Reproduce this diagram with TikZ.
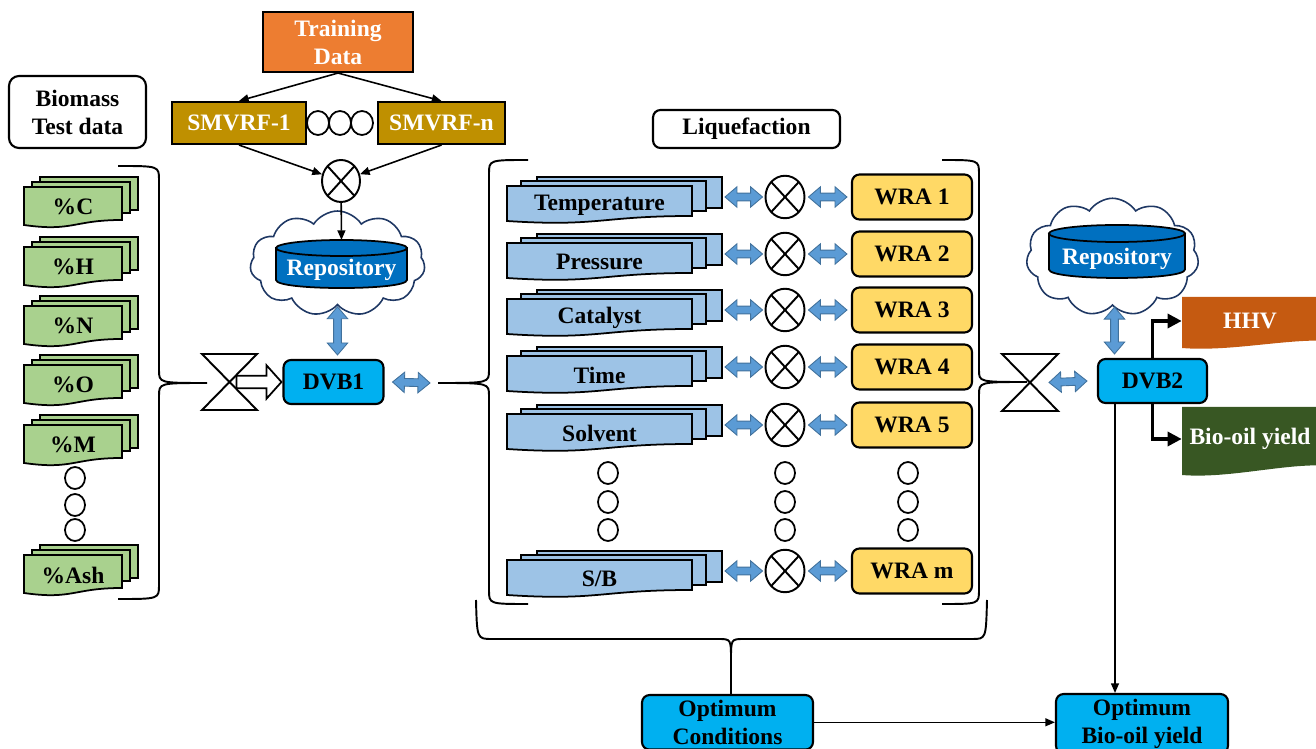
\documentclass[tikz,border=0pt]{standalone}
\usepackage{fontspec}
\setmainfont{Liberation Serif}
\usetikzlibrary{calc,arrows.meta,shapes.geometric,shapes.symbols}

\definecolor{trainorange}{HTML}{ED7D31}
\definecolor{smvgold}{HTML}{BF9000}
\definecolor{leafgreen}{HTML}{A9D18E}
\definecolor{paleblue}{HTML}{9DC3E6}
\definecolor{wrayellow}{HTML}{FFD966}
\definecolor{dvbcyan}{HTML}{00B0F0}
\definecolor{repoblue}{HTML}{0070C0}
\definecolor{cloudnavy}{HTML}{1F3864}
\definecolor{arrowblue}{HTML}{5B9BD5}
\definecolor{arrowedge}{HTML}{41719C}
\definecolor{hhvorange}{HTML}{C55A11}
\definecolor{oilgreen}{HTML}{385723}

\tikzset{
  lbl/.style={font=\fontsize{13.4}{15.9}\selectfont\bfseries, align=center, inner sep=0pt},
  box/.style={lbl, draw=black, line width=1.2pt},
  roundbox/.style={box, rounded corners=0.15cm},
  mixer/.style={ellipse, draw=black, line width=1.1pt, minimum width=0.78cm,
    minimum height=0.85cm, inner sep=0pt,
    path picture={\draw[line width=1.1pt]
      (path picture bounding box.north west) -- (path picture bounding box.south east)
      (path picture bounding box.north east) -- (path picture bounding box.south west);}},
  gapdot/.style={ellipse, draw=black, line width=1pt, minimum width=0.4cm,
    minimum height=0.44cm, inner sep=0pt},
  doc/.style={draw=black, line width=1pt},
  curly/.style={draw=black, line width=1.1pt},
  puffy/.style={cloud, cloud puffs=11, cloud puff arc=115, draw=cloudnavy,
    fill=white, line width=0.9pt},
  thinarrow/.style={draw=black, line width=0.9pt, -{Triangle[length=5.5pt,width=4.5pt]}},
  thickarrow/.style={draw=black, line width=1.8pt, -{Triangle[length=8pt,width=8pt]}},
  blockarrow/.style={draw=arrowedge, fill=arrowblue, line width=0.5pt,
    to path={let \p1=(\tikztostart), \p2=(\tikztotarget),
      \n1={atan2(\y2-\y1,\x2-\x1)} in
      (\p1) -- ($(\p1)+(\n1:6.8pt)+(\n1+90:5.8pt)$)
      -- ($(\p1)+(\n1:6.8pt)+(\n1+90:2.2pt)$)
      -- ($(\p2)+(\n1:-6.8pt)+(\n1+90:2.2pt)$)
      -- ($(\p2)+(\n1:-6.8pt)+(\n1+90:5.8pt)$)
      -- (\p2)
      -- ($(\p2)+(\n1:-6.8pt)+(\n1-90:5.8pt)$)
      -- ($(\p2)+(\n1:-6.8pt)+(\n1-90:2.2pt)$)
      -- ($(\p1)+(\n1:6.8pt)+(\n1-90:2.2pt)$)
      -- ($(\p1)+(\n1:6.8pt)+(\n1-90:5.8pt)$) -- cycle}},
  openarrow/.style={draw=black, fill=white, line width=1pt,
    to path={let \p1=(\tikztostart), \p2=(\tikztotarget),
      \n1={atan2(\y2-\y1,\x2-\x1)} in
      ($(\p1)+(\n1+90:3.6pt)$)
      -- ($(\p2)+(\n1:-8.5pt)+(\n1+90:3.6pt)$)
      -- ($(\p2)+(\n1:-8.5pt)+(\n1+90:9.5pt)$)
      -- (\p2)
      -- ($(\p2)+(\n1:-8.5pt)+(\n1-90:9.5pt)$)
      -- ($(\p2)+(\n1:-8.5pt)+(\n1-90:3.6pt)$)
      -- ($(\p1)+(\n1-90:3.6pt)$) -- cycle}}
}

\begin{document}
\begin{tikzpicture}[x=0.02cm, y=-0.02cm]
  \useasboundingbox (0,0) rectangle (1316,749);

  % Braces round the biomass data and the liquefaction block
  \coordinate (braceA) at (207,383);
  \coordinate (braceB) at (438,383);
  \coordinate (braceC) at (1027,382);
  \coordinate (braceD) at (731,660);
  \draw[curly] (118,166) .. controls (159,166) .. (159,180) -- (159,370)
    .. controls (159,383) .. (braceA) .. controls (159,383) .. (159,396)
    -- (159,585) .. controls (159,599) .. (118,599);
  \draw[curly] (528,160) .. controls (489,160) .. (489,174) -- (489,370)
    .. controls (489,383) .. (braceB) .. controls (489,383) .. (489,396)
    -- (489,590) .. controls (489,604) .. (528,604);
  \draw[curly] (942,160) .. controls (979,160) .. (979,174) -- (979,370)
    .. controls (979,382) .. (braceC) .. controls (979,382) .. (979,395)
    -- (979,590) .. controls (979,604) .. (942,604);
  \draw[curly] (476,600) .. controls (477,639) .. (492,639) -- (718,639)
    .. controls (731,639) .. (braceD) .. controls (731,639) .. (744,639)
    -- (972,639) .. controls (986,639) .. (987,600);

  % Biomass composition stacks
  \foreach \yy/\lab/\nm in {187/{\%C}/pc, 247/{\%H}/ph, 306/{\%N}/pn,
      365/{\%O}/po, 425/{\%M}/pm, 555/{\%Ash}/pash} {
    \draw[doc, fill=leafgreen] (40,\yy-10) rectangle (138,\yy+23);
    \draw[doc, fill=leafgreen] (32,\yy-5) rectangle (130,\yy+26);
    \draw[doc, fill=leafgreen] (24,\yy) -- (122,\yy) -- (122,\yy+33)
      .. controls (73,\yy+33) and (73,\yy+45) .. (24,\yy+38) -- cycle;
    \node[lbl] (\nm) at (73,\yy+20) {\lab};
  }
  \foreach \y in {478,505,530}
    \node[gapdot] (gapg-\y) at (75,\y) {};

  % Liquefaction parameter rows
  \foreach \yy/\lab/\wra/\idx in {197/Temperature/{WRA 1}/1, 254/Pressure/{WRA 2}/2,
      310/Catalyst/{WRA 3}/3, 367/Time/{WRA 4}/4, 425/Solvent/{WRA 5}/5,
      571/{S/B}/{WRA m}/m} {
    \draw[doc, fill=paleblue] (537,\yy-20) rectangle (722,\yy+11);
    \draw[doc, fill=paleblue] (521,\yy-16) rectangle (706,\yy+14);
    \draw[doc, fill=paleblue] (507,\yy-11) -- (692,\yy-11) -- (692,\yy+19)
      .. controls (599.5,\yy+19) and (599.5,\yy+30) .. (507,\yy+24) -- cycle;
    \node[lbl] (par\idx) at (599.5,\yy+8) {\lab};
    \coordinate (par\idx-e) at (722,\yy);
    \node[mixer] (mix\idx) at (785,\yy) {};
    \node[roundbox, fill=wrayellow, minimum width=2.4cm, minimum height=0.9cm]
      (wra\idx) at (912,\yy) {\wra};
    \draw[blockarrow] ($(par\idx-e)+(3,0)$) to ($(mix\idx.west)+(-2,0)$);
    \draw[blockarrow] ($(mix\idx.east)+(3,0)$) to ($(wra\idx.west)+(-4,0)$);
  }
  \foreach \x in {608,785,908} {
    \foreach \y in {473,502,530} {
      \node[gapdot] (gap-\x-\y) at (\x,\y) {};
    }
  }

  % Training side
  \node[box, fill=trainorange, text=white, minimum width=3cm, minimum height=1.2cm]
    (train) at (338,42) {Training\\Data};
  \node[box, fill=smvgold, text=white, minimum width=2.68cm, minimum height=0.84cm]
    (smv1) at (239,123) {SMVRF-1};
  \node[box, fill=smvgold, text=white, minimum width=2.54cm, minimum height=0.84cm]
    (smvn) at (441.5,123) {SMVRF-n};
  \foreach \x in {318,340,362}
    \node[gapdot, minimum width=0.44cm, minimum height=0.48cm] (gapt-\x) at (\x,123) {};
  \node[mixer, minimum width=0.76cm, minimum height=0.84cm] (mix0) at (341,181) {};

  % Labels
  \node[roundbox, fill=white, minimum width=2.74cm, minimum height=1.44cm,
    rounded corners=0.2cm] (biomass) at (77.5,112) {Biomass\\Test data};
  \node[roundbox, fill=white, minimum width=3.74cm, minimum height=0.76cm]
    (liq) at (746.5,129) {Liquefaction};

  % Repositories in their clouds
  \node[puffy, aspect=1.65, minimum width=3.5cm, minimum height=2.1cm]
    (cloud1) at (337.5,263.5) {};
  \draw[fill=repoblue, line width=1pt] (276,248) -- (276,280)
    .. controls (276,290.7) and (407,290.7) .. (407,280) -- (407,248) -- cycle;
  \draw[fill=repoblue, line width=1pt] (341.5,248) ellipse [x radius=65.5, y radius=8];
  \node[lbl, text=white] (repo1) at (341.5,270) {Repository};
  \coordinate (repo1-top) at (341.5,240);
  \node[puffy, aspect=1.45, minimum width=3.45cm, minimum height=2.35cm]
    (cloud2) at (1112.5,257) {};
  \draw[fill=repoblue, line width=1pt] (1049,233.5) -- (1049,269.5)
    .. controls (1049,280.8) and (1185,280.8) .. (1185,269.5) -- (1185,233.5) -- cycle;
  \draw[fill=repoblue, line width=1pt] (1117,233.5) ellipse [x radius=68, y radius=8.5];
  \node[lbl, text=white] (repo2) at (1117,259) {Repository};

  % Data vaults and results
  \node[roundbox, fill=dvbcyan, minimum width=2cm, minimum height=0.88cm]
    (dvb1) at (333.5,382) {DVB1};
  \node[roundbox, fill=dvbcyan, minimum width=2.18cm, minimum height=0.88cm]
    (dvb2) at (1152.5,381) {DVB2};
  \node[roundbox, fill=dvbcyan, anchor=north, minimum width=3.42cm, inner ysep=0.1cm]
    (optc) at (727.5,694) {Optimum\\Conditions};
  \node[roundbox, fill=dvbcyan, anchor=north, minimum width=3.44cm, inner ysep=0.1cm]
    (optb) at (1142,693) {Optimum\\Bio-oil yield};
  \fill[hhvorange] (1182,297) -- (1330,297) -- (1330,341)
    .. controls (1290,338) and (1230,352) .. (1182,348) -- cycle;
  \node[lbl, text=white, minimum width=2.72cm] (hhv) at (1250,321) {HHV};
  \fill[oilgreen] (1182,407) -- (1330,407) -- (1330,466)
    .. controls (1290,462) and (1230,479) .. (1182,475) -- cycle;
  \node[lbl, text=white, minimum width=2.72cm] (bio) at (1250,439) {Bio-oil yield};

  % Collators at both ends of the liquefaction block
  \draw[line width=1.1pt] (202,354) -- (257,354) -- (202,410) -- (257,410) -- cycle;
  \coordinate (hg1) at (229.5,382);
  \draw[line width=1.1pt] (1002,354) -- (1058,354) -- (1002,411) -- (1058,411) -- cycle;
  \coordinate (hg2) at (1030,382.5);

  % Connectors
  \draw[thinarrow] (train.south) -- (smv1.north);
  \draw[thinarrow] (train.south) -- (smvn.north);
  \draw[thinarrow] (smv1.south) -- (mix0);
  \draw[thinarrow] (smvn.south) -- (mix0);
  \draw[thinarrow] (mix0) -- (repo1-top);
  \draw[blockarrow] ($(cloud1.south)+(0,1)$) to ($(cloud1.south |- dvb1.north)+(0,-4)$);
  \draw[openarrow] ($(hg1)+(7,0)$) to ($(dvb1.west)+(-1,0)$);
  \draw[blockarrow] ($(dvb1.east)+(8,0)$) to ($(braceB)+(-8,0)$);
  \draw[blockarrow] ($(hg2)+(19,0)$) to ($(dvb2.west)+(-10,0)$);
  \draw[blockarrow] ($(cloud2.south)+(2,1)$) to ($(cloud2.south |- dvb2.north)+(2,-4)$);
  \draw[thickarrow] (dvb2.north) |- (hhv.west);
  \draw[thickarrow] (dvb2.south) |- (bio.west);
  \coordinate (dvb2-out) at ($(dvb2.south)+(-37.5,0)$);
  \draw[thinarrow] (dvb2-out) -- (dvb2-out |- optb.north);
  \draw[curly] (braceD) -- (braceD |- optc.north);
  \draw[thinarrow] (optc.east) -- (optc.east -| optb.west);
\end{tikzpicture}
\end{document}
